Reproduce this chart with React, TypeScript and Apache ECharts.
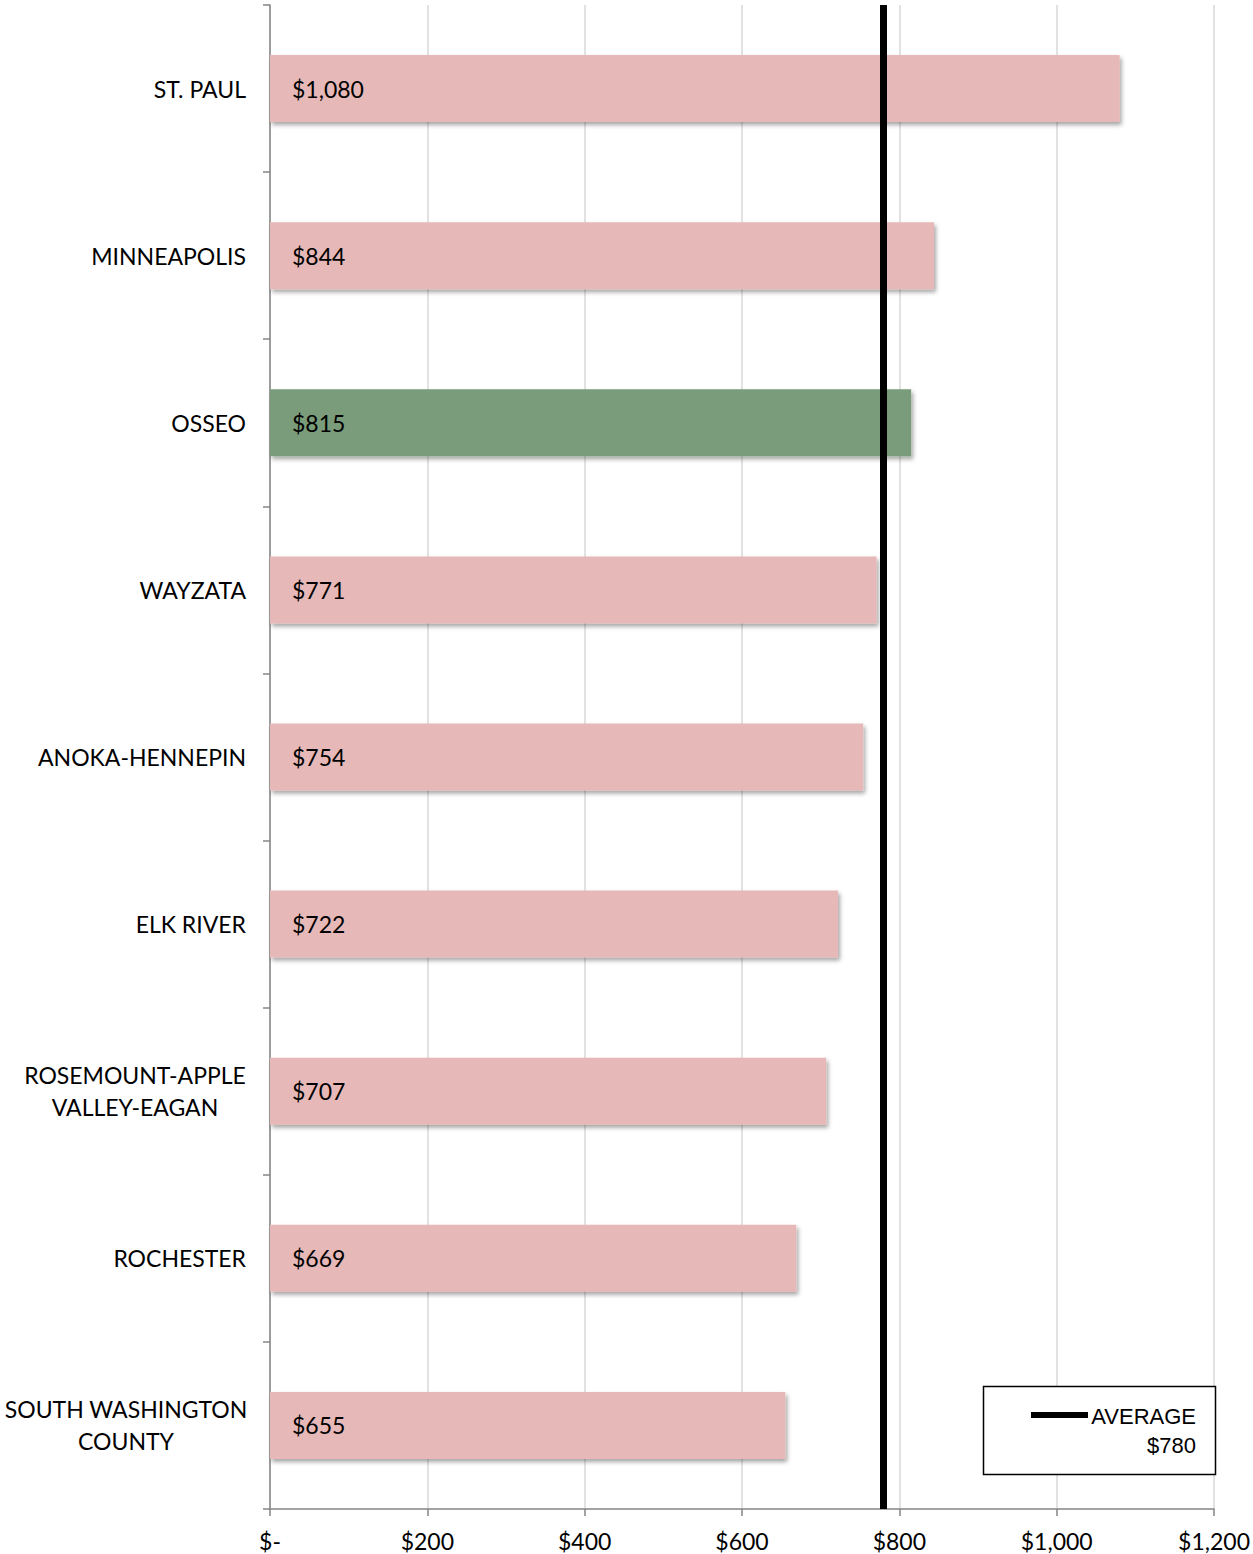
import React, { useEffect, useRef } from "react";
import * as echarts from "echarts";

const categories = [
  "ST. PAUL",
  "MINNEAPOLIS",
  "OSSEO",
  "WAYZATA",
  "ANOKA-HENNEPIN",
  "ELK RIVER",
  "ROSEMOUNT-APPLE\nVALLEY-EAGAN",
  "ROCHESTER",
  "SOUTH WASHINGTON\nCOUNTY",
];
const values = [1080, 844, 815, 771, 754, 722, 707, 669, 655];
const highlighted = "OSSEO";
const averageValue = 780;
const averageLabel = "AVERAGE";
const xTicks = [0, 200, 400, 600, 800, 1000, 1200];

const PINK = "#E6B8B7";
const GREEN = "#7A9C7A";
const FONT = "Lato";
const FS = 23;

const money = (v: number) => (v === 0 ? "$-" : "$" + v.toLocaleString("en-US"));

export default function App() {
  const ref = useRef<HTMLDivElement>(null);
  useEffect(() => {
    document.body.style.margin = "0";
    const chart = echarts.init(ref.current!, undefined, { renderer: "svg" });
    chart.setOption({
      animation: false,
      backgroundColor: "#fff",
      grid: { left: 270, right: 38, top: 5, bottom: 45, containLabel: false },
      xAxis: {
        type: "value",
        min: xTicks[0],
        max: xTicks[xTicks.length - 1],
        interval: 200,
        axisLine: { show: true, lineStyle: { color: "#868686", width: 1.5 } },
        axisTick: { show: true, length: 7, lineStyle: { color: "#868686", width: 1.5 } },
        splitLine: { show: true, lineStyle: { color: "#D9D9D9", width: 1.5 } },
        axisLabel: {
          formatter: (v: number) => money(v),
          color: "#000",
          fontFamily: FONT,
          fontSize: FS,
          margin: 20,
        },
      },
      yAxis: {
        type: "category",
        data: categories,
        inverse: true,
        axisLine: { show: true, lineStyle: { color: "#868686", width: 1.5 } },
        axisTick: { show: true, length: 7, lineStyle: { color: "#868686", width: 1.5 } },
        axisLabel: {
          color: "#000",
          fontFamily: FONT,
          fontSize: FS,
          margin: 24,
          lineHeight: 32,
          formatter: (v: string) => {
            if (v.indexOf("\n") < 0) return v;
            const key = v.startsWith("ROSEMOUNT") ? "r" : "s";
            return v.split("\n").map((s) => `{${key}|${s}}`).join("\n");
          },
          rich: {
            r: { width: 222, align: "center", fontFamily: FONT, fontSize: FS, lineHeight: 32, color: "#000" },
            s: { width: 240, align: "center", fontFamily: FONT, fontSize: FS, lineHeight: 32, color: "#000" },
          },
        },
      },
      series: [
        {
          type: "bar",
          barWidth: 67,
          data: values.map((v, i) => ({
            value: v,
            itemStyle: { color: categories[i] === highlighted ? GREEN : PINK },
          })),
          itemStyle: {
            shadowColor: "rgba(0,0,0,0.35)",
            shadowBlur: 4,
            shadowOffsetX: 2,
            shadowOffsetY: 3,
          },
          label: {
            show: true,
            position: "insideLeft",
            distance: 22,
            formatter: (p: any) => money(p.value),
            color: "#000",
            fontFamily: FONT,
            fontSize: FS,
          },
          markLine: {
            silent: true,
            symbol: "none",
            label: { show: false },
            lineStyle: { color: "#000", width: 7, type: "solid" },
            data: [{ xAxis: averageValue }],
          },
        },
      ],
      graphic: [
        {
          type: "rect",
          shape: { x: 983.5, y: 1386.5, width: 232, height: 88 },
          style: { fill: "#fff", stroke: "#000", lineWidth: 1.5 },
          z: 100,
        },
        {
          type: "line",
          shape: { x1: 1031, y1: 1415, x2: 1088, y2: 1415 },
          style: { stroke: "#000", lineWidth: 6 },
          z: 101,
        },
        {
          type: "text",
          x: 1196,
          y: 1416,
          style: {
            text: averageLabel,
            align: "right",
            verticalAlign: "middle",
            fontFamily: "Liberation Sans",
            fontSize: 22,
            fill: "#000",
          },
          z: 101,
        },
        {
          type: "text",
          x: 1196,
          y: 1445,
          style: {
            text: money(averageValue),
            align: "right",
            verticalAlign: "middle",
            fontFamily: "Liberation Sans",
            fontSize: 22,
            fill: "#000",
          },
          z: 101,
        },
      ],
    });
    return () => chart.dispose();
  }, []);
  return <div ref={ref} style={{ width: 1253, height: 1554 }} />;
}
